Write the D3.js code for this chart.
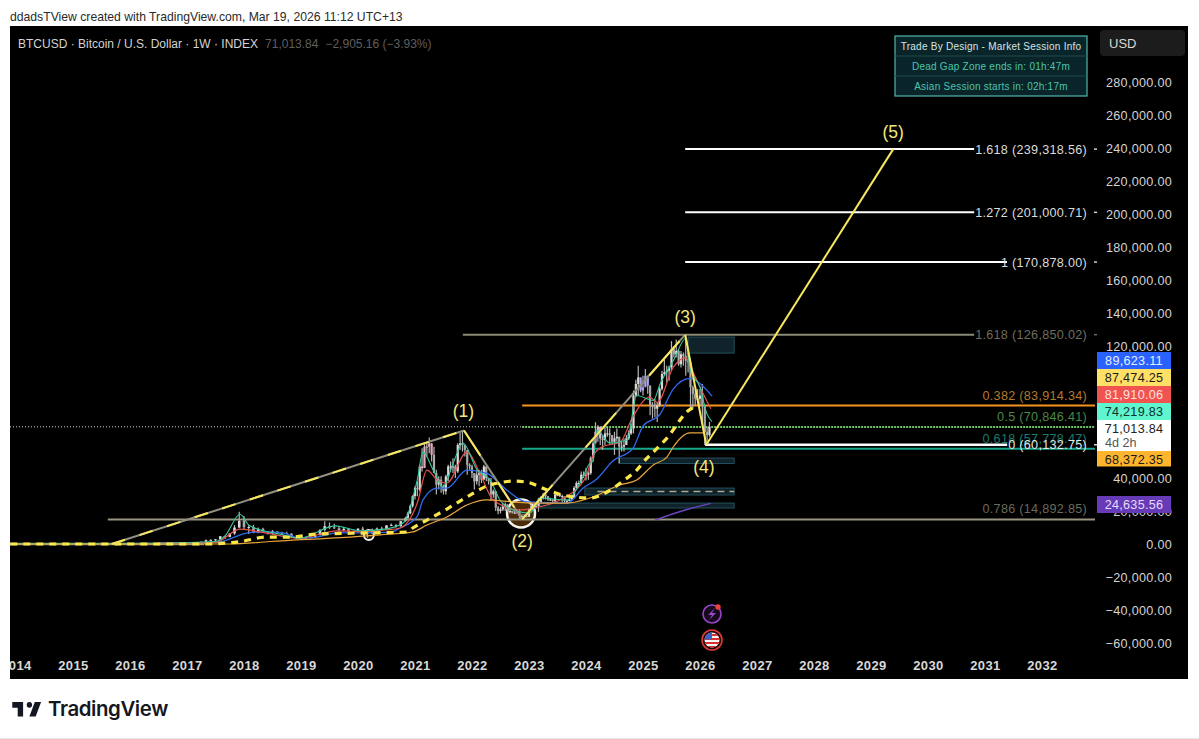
<!DOCTYPE html>
<html>
<head>
<meta charset="utf-8">
<script src="https://d3js.org/d3.v7.min.js"></script>
<style>
html, body { margin: 0; padding: 0; background: #fff; }
svg { display: block; font-family: "Liberation Sans", Arial, sans-serif; }
</style>
</head>
<body>
<svg id="chart" width="1199" height="739"></svg>
<script>
// price ticks and year ticks, the ones under the price tags don't show
var priceTicks = [280000,260000,240000,220000,200000,180000,160000,140000,120000,40000,20000,0,-20000,-40000,-60000];
var yearTicks = [2014,2015,2016,2017,2018,2019,2020,2021,2022,2023,2024,2025,2026,2027,2028,2029,2030,2031,2032];

// monthly candles Jul 2016 - Oct 2020, thousands of USD
var earlyClose = [.62,.57,.6,.7,.74,.96, .97,1.19,1.08,1.35,2.3,2.5,2.87,4.7,4.3,6.4,10,14, 10.2,10.3,6.9,9.2,7.5,6.4,7.7,7,6.6,6.3,4,3.7, 3.4,3.8,4.1,5.3,8.6,10.8,10.1,9.6,8.3,9.2,7.5,7.2, 9.3,8.5,6.4,8.6,9.4,9.1,11.3,11.6,10.8,13.8];
var earlyHigh = [.68,.62,.62,.74,.76,.97, 1.15,1.2,1.3,1.35,2.7,2.9,2.95,4.9,4.9,6.4,11.5,19.5, 17,11.5,11.7,10,9.9,7.8,8.5,7.4,7.4,7.5,6.5,4.3, 4.1,4.2,4.1,5.6,9,13.8,13.1,12.3,10.9,10.4,9.5,7.7, 9.5,10.5,9.2,9.4,10,10.4,11.4,12.4,12,14];
var earlyLow = [.55,.47,.58,.6,.7,.74, .75,.9,.9,1.1,1.3,1.9,1.8,2.6,3,4.1,5.5,9.5, 9,6,6.5,6.5,7,5.8,5.8,6,6,6,3.5,3.2, 3.3,3.3,3.7,4,5.3,7.4,9,9.1,7.4,7.7,6.5,6.4, 6.9,8.5,3.8,6.2,8.6,8.9,9,10.9,9.9,10.4];

// half-month candles Nov 2020 - Mar 2026, thousands of USD
var lateClose = [15.7,18.5,23,29,
  34,33,47,46,59,59,61,54,43,36,39,35,32,41,47,47,47,44,60,61,60,57,48,47,
  43,38,42,43,39,47,40,38,30,32,22,20,21,23,24,20,20,19,19,20,17,17,17,16.5,
  21,23,22,23,25,28,30,29,27,27,26,30,30,29,29,26,26,27,28,34,37,37,42,42,
  42,43,52,61,68,71,64,63,67,67,66,62,64,65,59,59,60,64,67,70,90,97,101,93,
  95,102,96,84,83,82,84,94,103,104,105,107,118,115,117,109,115,114,111,110,95,91,88,88,
  90,84,68,66,71];
var lateHigh = [16.5,19.5,24,29.5,
  35,38,48,58,61,61.5,64.5,61,59,45,41,41,36,42,48,50,52,48,61,67.5,69,60,52,49,
  48,43,45,45,45,48,47,40,40,33,32,23,22.5,25,25.2,24,22.5,20,20.5,21,21,18,18,17.5,
  21.5,24,24.5,25,28,29,31,30.5,29,28,27,31.5,31.5,30,30,28.5,27,28.5,30,35,38,38.5,44,44,
  46,44,53,64,73.8,72,71,66,71.5,71,70,66,68,70,65,62,64,66,69,73,93,99.5,108,100,
  102,106,102,96,86,88,86,95,105,112,108,108,123,120,124,118,117,116,126,116,107,96,94,94,
  94,97,84,71,74];
var lateLow = [13.5,15.5,18,22,
  27,29,32,44,48,53,55,50,47,30,33,31,30,30,38,44,43,40,43,57,56,53,42,45,
  40,33,36,35,37,39,38,36,26,28,20,18,18.5,20,20,19.5,18.5,18.5,18.2,18.5,15.5,16,16.3,16.2,
  16.5,20.5,21.5,21.5,19.5,25,27,27,26,26,25,25.5,29,28.5,25.5,25,25,26,26.5,28,34,35.5,37.5,40,
  38.5,39,42,50,61,62,60,57,60,65,60,60,54,62,49,56,56,60,63,66,67,89,90,92,
  90,97,91,78,76,77,74,83,93,102,98,99,105,113,113,108,107,108,102,104,81,82,84,85,
  84,74,60,62,65];

// moving averages
var greenYears = [2013.9,2016.5,2017.5,2017.67,2017.93,2018.1,2018.63,2018.98,2019.6,2020.03,2020.47,2020.79,2021.04,2021.14,2021.32,2021.49,2021.67,2021.84,2022.09,2022.32,2022.49,2022.72,2023.02,2023.19,2023.67,2023.9,2024.07,2024.12,2024.19,2024.42,2024.72,2024.89,2025.18,2025.3,2025.53,2025.76,2025.82,2026,2026.12,2026.21];
var greenValues = [0,500,1500,5000,18000,11000,6000,3500,11000,8000,9000,12700,38800,55700,44800,34500,49000,61200,44800,38800,26700,20600,18800,27900,26700,37200,49000,50000,69000,61200,63000,90000,87000,97000,111000,125000,107000,95000,79000,74219];
var redYears = [2016.5,2017.5,2017.93,2018.33,2018.98,2019.63,2020.09,2020.47,2020.74,2021.04,2021.21,2021.39,2021.56,2021.91,2022.14,2022.37,2022.84,2023.07,2023.54,2024,2024.11,2024.28,2024.6,2024.82,2025.12,2025.25,2025.53,2025.74,2025.88,2026.05,2026.19];
var redValues = [500,1000,9000,7000,3500,8000,7500,8500,9700,24800,44800,38800,36900,55700,42800,26700,20600,21800,26700,40600,52700,58800,61800,76900,89000,85800,107000,113000,104000,91500,81910];
var blueYears = [2016.5,2017.5,2018.07,2018.33,2018.68,2018.98,2019.28,2019.63,2020.09,2020.56,2020.74,2021.04,2021.14,2021.39,2021.56,2021.91,2022.26,2022.61,2022.96,2023.67,2023.95,2024.19,2024.47,2024.82,2025,2025.3,2025.53,2025.82,2026,2026.21];
var blueValues = [500,800,6700,7300,6700,3600,4200,6700,6700,7000,9700,16700,26700,33900,33900,44800,42800,32700,25500,24800,33900,39400,50300,57800,71500,78700,93800,100400,97300,89623];
var thickYears = [2013.9,2017.28,2017.93,2018.4,2018.8,2019.28,2020.16,2020.86,2020.96,2021.21,2021.56,2021.91,2022.26,2022.54,2022.72,2022.96,2023.32,2023.67,2024.07,2024.37,2024.65,2024.89,2025.07,2025.18,2025.42,2025.82,2025.91];
var thickValues = [0,0,1450,4200,4200,6000,6700,7300,9700,14500,21200,28500,35100,37500,38100,37500,32700,29100,27900,31500,38200,44800,52100,55700,64200,81500,83000];
var orangeYears = [2013.9,2017.75,2018.46,2020.39,2020.96,2021.21,2021.56,2021.91,2022.26,2022.72,2023.07,2023.67,2024.07,2024.6,2024.89,2025.18,2025.42,2025.53,2025.82,2026.05,2026.09];
var orangeValues = [0,0,1500,5500,7300,11500,16400,23600,26700,25500,24800,24800,27900,35800,38800,47900,52700,58800,67300,67300,68372];
var purpleYears = [2025.21,2025.74,2026.19];
var purpleValues = [14500,20600,24635];

// elliott wave legs and their labels
var waveYears = [2015.68,2021.86,2022.88,2025.74,2026.11,2029.39];
var waveValues = [0,68789,14892,126850,60132,239318];
var waveLabels = ["(1)","(2)","(3)","(4)","(5)"];
var waveLabelYears = [2021.85,2022.88,2025.74,2026.07,2029.39];
var waveLabelValues = [80600,1800,137800,46600,250000];

// fib levels
var fibLabels = ["1.618 (239,318.56)","1.272 (201,000.71)","1 (170,878.00)","1.618 (126,850.02)","0.382 (83,914.34)","0.5 (70,846.41)","0.618 (57,778.47)","0 (60,132.75)","0.786 (14,892.85)"];
var fibValues = [239318.56,201000.71,170878,126850.02,83914.34,70846.41,57778.47,60132.75,14892.85];
var fibStarts = [2025.74,2025.74,2025.74,2021.84,2022.88,2022.88,2022.88,2026.09,2015.61];
var fibColors = ["#ffffff","#ffffff","#ffffff","#8b8a74","#f7931e","#6fc46a","#17a88c","#ffffff","#9a9580"];
var fibTextColors = ["#dcdcdc","#dcdcdc","#dcdcdc","#6f6e5e","#b4792a","#4d8748","#157d6c","#e8e8e8","#6b6a5b"];
var fibAbove = [false,false,false,false,true,true,true,false,true];

// supply / demand zones
var zoneStarts = [2025.79,2024.58,2023.98,2023.19];
var zoneEnds = [2026.6,2026.6,2026.6,2026.6];
var zoneTops = [125400,52100,33900,24800];
var zoneBottoms = [115700,48800,29700,21800];

// price tags on the axis
var tagValues = ["89,623.11","87,474.25","81,910.06","74,219.83","71,013.84","68,372.35","24,635.56"];
var tagFills = ["#2962ff","#ffe066","#f05350","#5ff5cf","#ffffff","#ffb52e","#673ab7"];
var tagText = ["#e8eeff","#1a1a1a","#ffe0de","#10332a","#222222","#1a1a1a","#e6dcfa"];

var sessionRows = ["Trade By Design - Market Session Info","Dead Gap Zone ends in: 01h:47m","Asian Session starts in: 02h:17m"];

var svg = d3.select("#chart");
var x = d3.scaleLinear().domain([2015, 2032]).range([73, 1042]);
var y = d3.scaleLinear().domain([-60000, 280000]).range([643, 82]);

var clip = svg.append("defs");
clip.append("clipPath").attr("id", "plot").append("rect").attr("x", 10).attr("y", 26).attr("width", 1085).attr("height", 653);
clip.append("clipPath").attr("id", "timeClip").append("rect").attr("x", 10).attr("y", 650).attr("width", 1178).attr("height", 29);
clip.append("clipPath").attr("id", "flag").append("circle").attr("cx", 712).attr("cy", 640).attr("r", 7.5);

svg.append("text").attr("x", 10).attr("y", 21).attr("font-size", 12.2).attr("fill", "#2a2a2a")
    .text("ddadsTView created with TradingView.com, Mar 19, 2026 11:12 UTC+13");
svg.append("rect").attr("x", 10).attr("y", 26).attr("width", 1178).attr("height", 653).attr("fill", "#000");

var plot = svg.append("g").attr("clip-path", "url(#plot)");

// current price dotted line
plot.append("line").attr("x1", 10).attr("x2", 1095).attr("y1", y(71013.84)).attr("y2", y(71013.84))
    .attr("stroke", "#d8d8d8").attr("stroke-dasharray", "1 2");

// zones
plot.selectAll("rect.zone").data(zoneStarts).enter().append("rect").attr("class", "zone")
    .attr("x", function(d) { return x(d); })
    .attr("y", function(d, i) { return y(zoneTops[i]); })
    .attr("width", function(d, i) { return x(zoneEnds[i]) - x(d); })
    .attr("height", function(d, i) { return y(zoneBottoms[i]) - y(zoneTops[i]); })
    .attr("fill", "#10222a").attr("stroke", "#24505a");
plot.append("line").attr("x1", x(2024.2)).attr("x2", x(2026.6)).attr("y1", y(31800)).attr("y2", y(31800))
    .attr("stroke", "#a8a890").attr("stroke-width", 1.5).attr("stroke-dasharray", "7 5");

// wave (2) circle sits behind the candles
plot.append("circle").attr("cx", x(2022.86)).attr("cy", y(18500)).attr("r", 14)
    .attr("fill", "#4a2a08").attr("stroke", "#f4f4ee").attr("stroke-width", 2.5);
plot.append("circle").attr("cx", x(2020.19)).attr("cy", y(5500)).attr("r", 5)
    .attr("fill", "#1a1206").attr("stroke", "#f4f4ee").attr("stroke-width", 2);

// fib lines, the right end depends on the label for inline ones
var fibG = svg.append("g").attr("font-size", 12.6).attr("text-anchor", "end").style("letter-spacing", "0.3px");
fibLabels.forEach(function(label, i) {
    var py = y(fibValues[i]);
    var t = fibG.append("text").attr("x", 1087).attr("y", (fibAbove[i] ? py - 10.5 : py) + 4.5)
        .attr("fill", fibTextColors[i]).text(label);
    var right = fibAbove[i] ? 1095 : 1087 - t.node().getComputedTextLength() - 1;
    if (i == 2) right = 1007;
    var l = plot.append("line").attr("x1", x(fibStarts[i])).attr("x2", right).attr("y1", py).attr("y2", py)
        .attr("stroke", fibColors[i]).attr("stroke-width", (i == 7) ? 2.6 : 2);
    if (i == 5) l.attr("stroke-dasharray", "2 1");
    if (!fibAbove[i]) {
        svg.append("line").attr("x1", 1094).attr("x2", 1097).attr("y1", py).attr("y2", py)
            .attr("stroke", fibTextColors[i]).attr("stroke-width", 1.4);
    }
});

// candles
var earlyCandles = earlyClose.map(function(c, i) {
    return { t: 2016.5 + i / 12, o: i ? earlyClose[i - 1] : c, c: c, h: earlyHigh[i], l: earlyLow[i], w: 2.6 };
});
var lateCandles = lateClose.map(function(c, i) {
    return { t: 2020.833 + i / 24, o: i ? lateClose[i - 1] : 13.8, c: c, h: lateHigh[i], l: lateLow[i], w: 2.2 };
});
var candles = earlyCandles.concat(lateCandles);
var candleG = plot.append("g");
candleG.selectAll("line").data(candles).enter().append("line")
    .attr("x1", function(d) { return x(d.t); }).attr("x2", function(d) { return x(d.t); })
    .attr("y1", function(d) { return y(d.h * 1000); }).attr("y2", function(d) { return y(d.l * 1000); })
    .attr("stroke", "#b4b4b4").attr("stroke-width", 1.2);
candleG.selectAll("rect").data(candles).enter().append("rect")
    .attr("x", function(d) { return x(d.t) - d.w / 2; })
    .attr("width", function(d) { return d.w; })
    .attr("y", function(d) { return y(Math.max(d.o, d.c) * 1000); })
    .attr("height", function(d) { return Math.max(1, Math.abs(y(d.o * 1000) - y(d.c * 1000))); })
    .attr("fill", function(d) {
        if (d.t > 2024.1 && d.t < 2024.25) return "#e9b7d6";
        if (d.t > 2024.95 && d.t < 2025.1) return "#a9a4ee";
        if (d.t > 2021.1 && d.t < 2021.3) return "#e3a9b8";
        return d.c >= d.o ? "#d9d9d9" : "#a8a8a8";
    });

// moving averages
var maLine = d3.line().curve(d3.curveMonotoneX)
    .x(function(d) { return x(d[0]); })
    .y(function(d) { return y(d[1]); });
function drawSeries(years, values, color, width, dash) {
    var p = plot.append("path").datum(d3.zip(years, values)).attr("d", maLine)
        .attr("fill", "none").attr("stroke", color).attr("stroke-width", width);
    if (dash) p.attr("stroke-dasharray", dash);
    return p;
}
plot.append("line").attr("x1", 10).attr("x2", x(2017.3)).attr("y1", y(0)).attr("y2", y(0))
    .attr("stroke", "#8e9a84").attr("stroke-width", 2.5);
drawSeries(blueYears, blueValues, "#2f6bf0", 1.3);
drawSeries(redYears, redValues, "#e8504c", 1.2);
drawSeries(greenYears, greenValues, "#35c99c", 1.1);
drawSeries(orangeYears, orangeValues, "#e8a53a", 1.2);
drawSeries(purpleYears, purpleValues, "#6a45c0", 1.4);
drawSeries(thickYears, thickValues, "#fbe74a", 3.2, "7 6");

// wave legs, the first three are grey with yellow running over them
var legDash = ["14 15", "30 32", "46 50"];
var legs = d3.pairs(d3.zip(waveYears, waveValues));
legs.forEach(function(leg, i) {
    var seg = plot.append("line")
        .attr("x1", x(leg[0][0])).attr("y1", y(leg[0][1]))
        .attr("x2", x(leg[1][0])).attr("y2", y(leg[1][1]))
        .attr("stroke-width", 2);
    if (i < 3) {
        seg.attr("stroke", "#918f80");
        plot.append("line")
            .attr("x1", x(leg[0][0])).attr("y1", y(leg[0][1]))
            .attr("x2", x(leg[1][0])).attr("y2", y(leg[1][1]))
            .attr("stroke", "#f8e860").attr("stroke-width", 2).attr("stroke-dasharray", legDash[i]);
    } else {
        seg.attr("stroke", "#f8e860");
    }
});

svg.append("g").selectAll("text").data(waveLabels).enter().append("text")
    .attr("x", function(d, i) { return x(waveLabelYears[i]); })
    .attr("y", function(d, i) { return y(waveLabelValues[i]) + 6; })
    .attr("text-anchor", "middle").attr("font-size", 17.5).attr("fill", "#f5e67e")
    .text(function(d) { return d; });

// legend line
var legend = svg.append("text").attr("x", 18).attr("y", 48).attr("font-size", 12);
legend.append("tspan").attr("fill", "#d4d4d4").text("BTCUSD \u00b7 Bitcoin / U.S. Dollar \u00b7 1W \u00b7 INDEX");
legend.append("tspan").attr("fill", "#5f5f5f").attr("dx", 7).text("71,013.84");
legend.append("tspan").attr("fill", "#5f5f5f").attr("dx", 7).text("\u22122,905.16 (\u22123.93%)");

// session info box
var session = svg.append("g");
session.append("rect").attr("x", 895).attr("y", 36).attr("width", 192).attr("height", 60)
    .attr("fill", "#0a2529").attr("stroke", "#4fb8ae").attr("stroke-width", 1.2);
sessionRows.forEach(function(row, i) {
    if (i) session.append("line").attr("x1", 895).attr("x2", 1087).attr("y1", 36 + i * 20).attr("y2", 36 + i * 20).attr("stroke", "#1c4a4e");
    session.append("text").attr("x", 991).attr("y", 50 + i * 20).attr("text-anchor", "middle")
        .attr("font-size", 10).style("letter-spacing", "0.25px")
        .attr("fill", i ? "#4cc4ac" : "#d6e4e4").text(row);
});

// axes
var yAxis = d3.axisRight(y).tickValues(priceTicks).tickSize(0).tickFormat(d3.format(",.2f"));
var yG = svg.append("g").attr("transform", "translate(1172,0)").call(yAxis);
yG.select(".domain").remove();
yG.selectAll("text").attr("x", 0).attr("text-anchor", "end").attr("fill", "#d4d4d4")
    .attr("font-size", 12.6).style("font-family", "'Liberation Sans', Arial, sans-serif").style("letter-spacing", "0.3px");

var xAxis = d3.axisBottom(x).tickValues(yearTicks).tickSize(0).tickFormat(d3.format("d"));
var xG = svg.append("g").attr("clip-path", "url(#timeClip)").append("g").attr("transform", "translate(0,658)").call(xAxis);
xG.select(".domain").remove();
xG.selectAll("text").attr("fill", "#d8d8d8").attr("font-size", 13).attr("font-weight", "bold")
    .style("font-family", "'Liberation Sans', Arial, sans-serif").style("letter-spacing", "0.4px");

// USD button
svg.append("rect").attr("x", 1100).attr("y", 30).attr("width", 85).attr("height", 26).attr("rx", 4).attr("fill", "#1c1c1c");
svg.append("text").attr("x", 1109).attr("y", 48).attr("font-size", 13).attr("fill", "#d8d8d8").text("USD");

// price tags, pinned to where they were pushed apart on the axis
var tagTops = [352, 369, 386, 403, 420, 451, 496];
var tagHeights = [17, 17, 17, 17, 31, 15.5, 17];
var tags = svg.append("g");
tagValues.forEach(function(v, i) {
    tags.append("rect").attr("x", 1097).attr("y", tagTops[i]).attr("width", 74).attr("height", tagHeights[i]).attr("fill", tagFills[i]);
    tags.append("text").attr("x", 1134).attr("y", tagTops[i] + 13).attr("text-anchor", "middle")
        .attr("font-size", 12.6).style("letter-spacing", "0.3px").attr("fill", tagText[i]).text(v);
});
tags.append("text").attr("x", 1105).attr("y", 446.5).attr("font-size", 12.6).attr("fill", "#555").text("4d 2h");

// event icons under the chart
var icons = svg.append("g");
icons.append("circle").attr("cx", 712).attr("cy", 614).attr("r", 9).attr("fill", "#160a1c").attr("stroke", "#9b45c9").attr("stroke-width", 1.6);
icons.append("path").attr("d", "M715 608 L708 615 L712 615 L709 620 L716 613 L712 613 Z").attr("fill", "#9b45c9");
icons.append("circle").attr("cx", 718).attr("cy", 607).attr("r", 2.7).attr("fill", "#f0403c");
icons.append("circle").attr("cx", 712).attr("cy", 640).attr("r", 10).attr("fill", "#200606").attr("stroke", "#d93a36").attr("stroke-width", 1.6);
var flag = icons.append("g").attr("clip-path", "url(#flag)");
flag.append("rect").attr("x", 704).attr("y", 632).attr("width", 16).attr("height", 16).attr("fill", "#f4f4f4");
[634, 638, 642, 646].forEach(function(stripe) {
    flag.append("rect").attr("x", 704).attr("y", stripe).attr("width", 16).attr("height", 2).attr("fill", "#d8322e");
});
flag.append("rect").attr("x", 704).attr("y", 632).attr("width", 8).attr("height", 7.5).attr("fill", "#3a62c4");

// footer
svg.append("path").attr("transform", "translate(10.5,696) scale(0.9,0.98)")
    .attr("d", "M14 6H2v6h6v9h6V6zm14 15h-7l6-15h7l-6 15zm-7-9a3 3 0 1 0 0-6 3 3 0 0 0 0 6z").attr("fill", "#131722");
svg.append("text").attr("x", 48).attr("y", 716).attr("font-size", 20.4).attr("font-weight", 600)
    .style("font-family", "Inter, sans-serif").style("letter-spacing", "-0.4px").attr("fill", "#131722").text("TradingView");
svg.append("line").attr("x1", 0).attr("x2", 1199).attr("y1", 738.5).attr("y2", 738.5).attr("stroke", "#e6e6e6");
</script>
</body>
</html>
